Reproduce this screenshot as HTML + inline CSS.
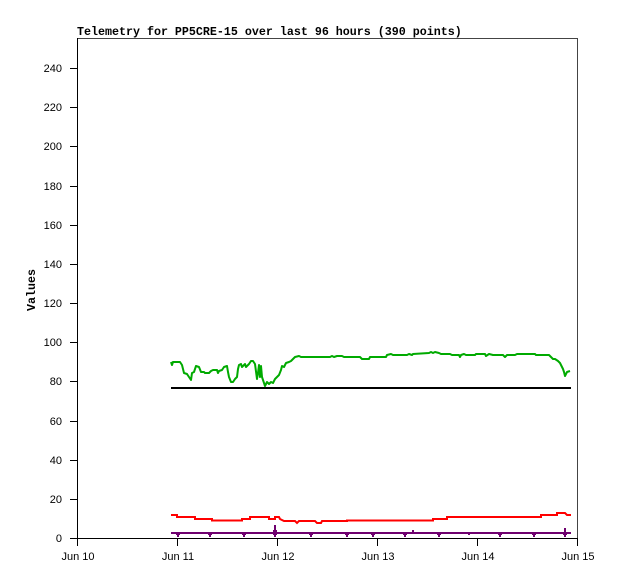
<!DOCTYPE html>
<html><head><meta charset="utf-8"><style>
html,body{margin:0;padding:0;background:#fff;}
svg{display:block;}
.t{font-family:"Liberation Sans",sans-serif;font-size:11px;fill:#000;}
.b{font-family:"Liberation Mono",monospace;font-size:11.67px;font-weight:bold;fill:#000;}
</style></head><body>
<svg width="618" height="579" viewBox="0 0 618 579" xmlns="http://www.w3.org/2000/svg" shape-rendering="crispEdges">
<rect width="618" height="579" fill="#fff"/>
<text class="b" x="77" y="35">Telemetry for PP5CRE-15 over last 96 hours (390 points)</text>
<text class="b" transform="translate(35,290) rotate(-90)" text-anchor="middle">Values</text>
<!-- frame -->
<line x1="77" y1="38.5" x2="578" y2="38.5" stroke="#444" stroke-width="1"/>
<line x1="577.5" y1="38" x2="577.5" y2="539" stroke="#444" stroke-width="1"/>
<line x1="77.5" y1="38" x2="77.5" y2="539" stroke="#000" stroke-width="1"/>
<line x1="77" y1="538.5" x2="578" y2="538.5" stroke="#000" stroke-width="1"/>
<!-- y ticks -->
<g stroke="#000" stroke-width="1">
<line x1="70" y1="538.5" x2="77" y2="538.5"/>
<line x1="70" y1="499.5" x2="77" y2="499.5"/>
<line x1="70" y1="460.5" x2="77" y2="460.5"/>
<line x1="70" y1="421.5" x2="77" y2="421.5"/>
<line x1="70" y1="381.5" x2="77" y2="381.5"/>
<line x1="70" y1="342.5" x2="77" y2="342.5"/>
<line x1="70" y1="303.5" x2="77" y2="303.5"/>
<line x1="70" y1="264.5" x2="77" y2="264.5"/>
<line x1="70" y1="225.5" x2="77" y2="225.5"/>
<line x1="70" y1="186.5" x2="77" y2="186.5"/>
<line x1="70" y1="146.5" x2="77" y2="146.5"/>
<line x1="70" y1="107.5" x2="77" y2="107.5"/>
<line x1="70" y1="68.5" x2="77" y2="68.5"/>
</g>
<g class="t" text-anchor="end">
<text x="62" y="542">0</text>
<text x="62" y="503">20</text>
<text x="62" y="464">40</text>
<text x="62" y="425">60</text>
<text x="62" y="385">80</text>
<text x="62" y="346">100</text>
<text x="62" y="307">120</text>
<text x="62" y="268">140</text>
<text x="62" y="229">160</text>
<text x="62" y="190">180</text>
<text x="62" y="150">200</text>
<text x="62" y="111">220</text>
<text x="62" y="72">240</text>
</g>
<!-- x ticks -->
<g stroke="#000" stroke-width="1">
<line x1="77.5" y1="538" x2="77.5" y2="546"/>
<line x1="177.5" y1="538" x2="177.5" y2="546"/>
<line x1="277.5" y1="538" x2="277.5" y2="546"/>
<line x1="377.5" y1="538" x2="377.5" y2="546"/>
<line x1="477.5" y1="538" x2="477.5" y2="546"/>
<line x1="577.5" y1="538" x2="577.5" y2="546"/>
</g>
<g class="t" text-anchor="middle">
<text x="78" y="560">Jun 10</text>
<text x="178" y="560">Jun 11</text>
<text x="278" y="560">Jun 12</text>
<text x="378" y="560">Jun 13</text>
<text x="478" y="560">Jun 14</text>
<text x="578" y="560">Jun 15</text>
</g>
<!-- black series -->
<rect x="171" y="387" width="400" height="2" fill="#000"/>
<!-- green series -->
<polyline fill="none" stroke="#00aa00" stroke-width="2" shape-rendering="auto" stroke-linejoin="round"
points="171,362 172,365 173,362 180,362 182,365 184,373 187,374 189,377 191,380 192,373 194,372 196,366 199,367 201,372 204,372 205,373 209,373 211,371 213,370 217,370 218,373 219,371 222,370 224,367 227,366 228,372 229,377 231,382 233,382 235,379 237,377 238,369 239,365 241,364 242,367 243,366 245,364 246,367 247,366 249,364 251,361 253,361 255,364 257,379 258,373 259,365 260,377 261,366 262,377 263,380 265,386 267,382 269,384 271,382 273,383 275,379 277,377 279,375 281,370 282,366 284,367 286,363 289,362 291,361 293,359 295,357 299,356 301,357 330,357 332,356 334,357 337,356 342,356 344,357 360,357 362,359 369,359 370,357 386,357 387,355 391,354 393,355 407,355 409,354 412,355 413,354 429,353 431,352 433,353 435,352 439,353 441,354 450,354 452,355 459,355 460,357 461,355 464,354 466,355 475,355 476,354 485,354 486,356 489,354 493,355 503,355 505,357 507,355 515,355 517,354 535,354 536,355 549,355 551,357 553,359 555,359 558,361 560,363 561,365 563,369 564,372 565,376 567,372 570,371"/>
<!-- red series -->
<polyline fill="none" stroke="#ff0000" stroke-width="2" shape-rendering="auto" stroke-linejoin="miter"
points="171,515 177,515 177,517 195,517 195,519 212,519 212,520.5 242,520.5 242,519 250,519 250,517 269,517 269,519 275,519 275,517 279,517 280,519 284,521 295,521 297,523 299,521 315,521 317,523 321,523 322,521 347,521 347,520.5 433,520.5 433,519 447,519 447,517 541,517 541,515 557,515 557,513 565,513 567,515 571,515"/>
<!-- purple series -->
<g fill="#6e006e">
<rect x="171" y="532" width="400" height="2"/>
<rect x="177" y="532" width="2" height="5"/><rect x="176" y="534" width="4" height="1"/>
<rect x="209" y="532" width="2" height="5"/><rect x="208" y="534" width="4" height="1"/>
<rect x="243" y="532" width="2" height="5"/><rect x="242" y="534" width="4" height="1"/>
<rect x="274" y="525" width="2" height="12"/><rect x="273" y="530" width="4" height="5"/>
<rect x="310" y="532" width="2" height="5"/><rect x="309" y="534" width="4" height="1"/>
<rect x="346" y="532" width="2" height="5"/><rect x="345" y="534" width="4" height="1"/>
<rect x="372" y="532" width="2" height="5"/><rect x="371" y="534" width="4" height="1"/>
<rect x="404" y="532" width="2" height="5"/><rect x="403" y="534" width="4" height="1"/>
<rect x="412" y="530" width="2" height="2"/>
<rect x="438" y="532" width="2" height="5"/><rect x="437" y="534" width="4" height="1"/>
<rect x="468" y="532" width="2" height="3"/>
<rect x="499" y="532" width="2" height="5"/><rect x="498" y="534" width="4" height="1"/>
<rect x="533" y="532" width="2" height="5"/><rect x="532" y="534" width="4" height="1"/>
<rect x="564" y="528" width="2" height="9"/><rect x="563" y="534" width="4" height="1"/>
</g>
</svg>
</body></html>
